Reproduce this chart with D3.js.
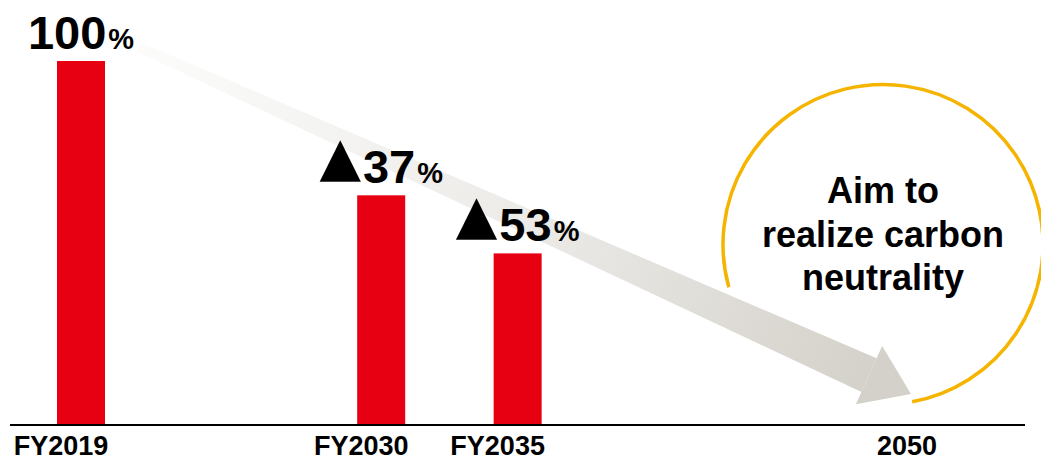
<!DOCTYPE html>
<html>
<head>
<meta charset="utf-8">
<script src="https://cdn.jsdelivr.net/npm/d3@7"></script>
<style>
  html, body { margin: 0; padding: 0; background: #fff; }
  svg { display: block; font-family: "Liberation Sans", Arial, sans-serif; font-weight: bold; }
</style>
</head>
<body>
<svg id="chart" width="1041" height="461"></svg>
<script>
// Emissions relative to the FY2019 baseline
const years = [2019, 2030, 2035];
const yearLabels = ["FY2019", "FY2030", "FY2035"];
const reductions = [0, 37, 53];           // % cut vs. FY2019
const targetYear = 2050;
const targetLabel = "2050";
const goalLines = ["Aim to", "realize carbon", "neutrality"];

const values = reductions.map(r => 100 - r);

const svg = d3.select("#chart");

const x = d3.scaleLinear().domain([2019, 2050]).range([81, 927]);
const y = d3.scaleLinear().domain([0, 100]).range([424, 61]);
const barW = 48;
const red = "#e60012";

// Gradient for the downward trend arrow
const defs = svg.append("defs");
const S = [x(2019) + 58, y(100) - 14];
const T = [x(targetYear) - 16, y(0) - 30];
const grad = defs.append("linearGradient")
  .attr("id", "trendGrad")
  .attr("gradientUnits", "userSpaceOnUse")
  .attr("x1", S[0]).attr("y1", S[1])
  .attr("x2", T[0]).attr("y2", T[1]);
grad.append("stop").attr("offset", 0).attr("stop-color", "#fcfcfb");
grad.append("stop").attr("offset", 0.5).attr("stop-color", "#ecebe8");
grad.append("stop").attr("offset", 1).attr("stop-color", "#d2cec7");

// Tapered arrow shaft + head
const dx = T[0] - S[0], dy = T[1] - S[1];
const len = Math.hypot(dx, dy);
const u = [dx / len, dy / len];
const n = [-u[1], u[0]];
const headLen = 46, headHalf = 32, tailHalf = 5, neckHalf = 18.5;
const B = [T[0] - headLen * u[0], T[1] - headLen * u[1]];
const pt = (p, k) => [p[0] + k * n[0], p[1] + k * n[1]];
const shaft = [pt(S, -tailHalf), pt(B, -neckHalf), pt(B, neckHalf), pt(S, tailHalf)];
const head = [pt(B, -headHalf), T, pt(B, headHalf)];
const line = d3.line();
svg.append("path").attr("d", line(shaft) + "Z").attr("fill", "url(#trendGrad)");
svg.append("path").attr("d", line(head) + "Z").attr("fill", "#d4d1cb");

// Goal circle (open arc)
const cx = x(targetYear) - 44, cy = y(50) + 2, r = 160;
const toRad = d => d * Math.PI / 180;
svg.append("path")
  .attr("transform", `translate(${cx},${cy})`)
  .attr("d", d3.arc()({ innerRadius: r, outerRadius: r, startAngle: toRad(-105.5), endAngle: toRad(169.5) }))
  .attr("fill", "none")
  .attr("stroke", "#f5b400")
  .attr("stroke-width", 3.5);

svg.append("text")
  .attr("text-anchor", "middle")
  .attr("font-size", 36)
  .attr("fill", "#000")
  .selectAll("tspan")
  .data(goalLines)
  .join("tspan")
  .attr("x", cx)
  .attr("y", (d, i) => 203 + i * 43.5)
  .text(d => d);

// Bars
svg.append("g")
  .selectAll("rect")
  .data(values)
  .join("rect")
  .attr("x", (d, i) => x(years[i]) - barW / 2)
  .attr("y", d => y(d))
  .attr("width", barW)
  .attr("height", d => y(0) - y(d))
  .attr("fill", red);

// Value labels
const labels = svg.append("g")
  .selectAll("text")
  .data(values)
  .join("text")
  .attr("x", (d, i) => x(years[i]))
  .attr("y", d => y(d) - 12)
  .attr("text-anchor", "middle")
  .attr("fill", "#000");
labels.each(function (d, i) {
  const t = d3.select(this);
  if (reductions[i] > 0) {
    t.append("tspan")
      .attr("font-family", "'DejaVu Sans', sans-serif")
      .attr("font-weight", "normal")
      .attr("font-size", 54)
      .attr("dy", -8)
      .text("▲");
    t.append("tspan").attr("font-size", 47).attr("dx", 2).attr("dy", 8).text(reductions[i]);
  } else {
    t.append("tspan").attr("font-size", 47).text(d);
  }
  t.append("tspan").attr("font-size", 29).attr("dx", 2).text("%");
});

// Baseline axis
svg.append("line")
  .attr("x1", 10).attr("x2", 1025)
  .attr("y1", y(0) + 1).attr("y2", y(0) + 1)
  .attr("stroke", "#000").attr("stroke-width", 2);

// Year labels
const tickYears = years.concat([targetYear]);
const tickText = yearLabels.concat([targetLabel]);
svg.append("g")
  .selectAll("text")
  .data(tickYears)
  .join("text")
  .attr("x", d => x(d) - 20)
  .attr("y", 455)
  .attr("text-anchor", "middle")
  .attr("font-size", 27)
  .attr("fill", "#000")
  .text((d, i) => tickText[i]);
</script>
</body>
</html>
